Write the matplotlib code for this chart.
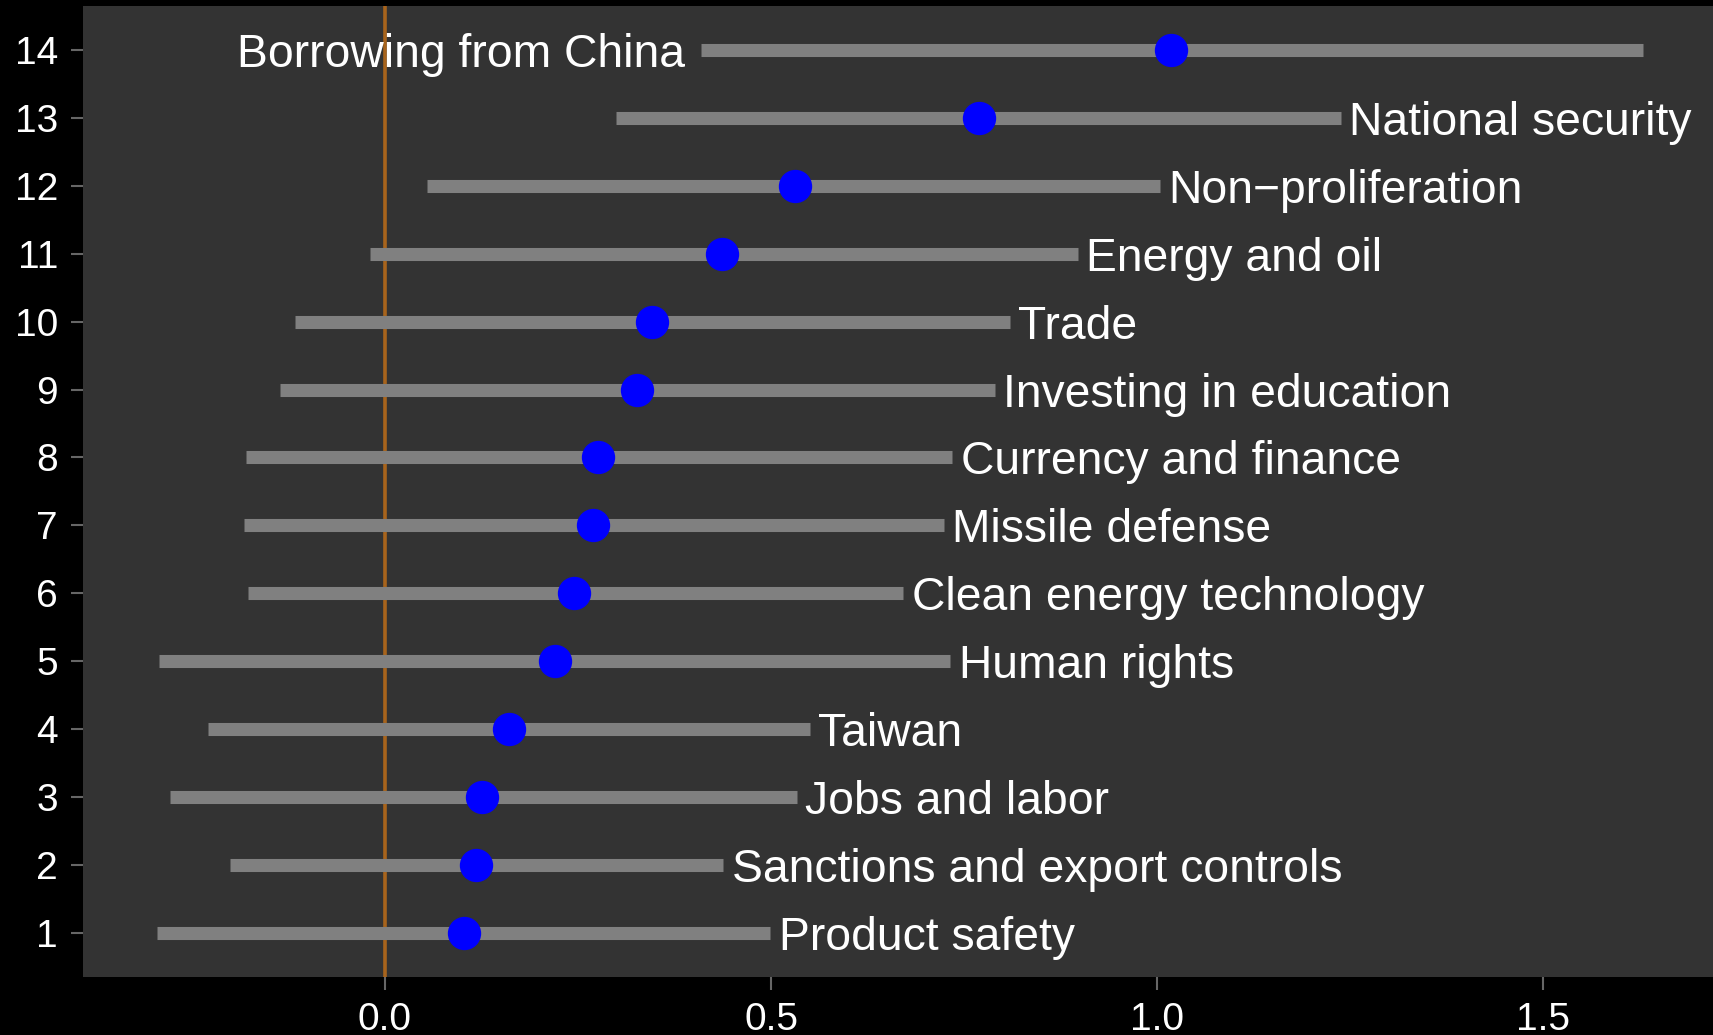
import numpy as np
import matplotlib
matplotlib.use('Agg')
import matplotlib.pyplot as plt

topics = ['Product safety', 'Sanctions and export controls', 'Jobs and labor', 'Taiwan',
          'Human rights', 'Clean energy technology', 'Missile defense', 'Currency and finance',
          'Investing in education', 'Trade', 'Energy and oil', 'Non\u2212proliferation',
          'National security', 'Borrowing from China']
est = [0.102, 0.118, 0.126, 0.160, 0.220, 0.245, 0.269, 0.276, 0.326, 0.346, 0.436, 0.531, 0.769, 1.018]
lo = [-0.295, -0.201, -0.278, -0.229, -0.293, -0.178, -0.183, -0.180, -0.136, -0.116, -0.020, 0.055, 0.299, 0.409]
hi = [0.499, 0.438, 0.533, 0.550, 0.732, 0.671, 0.724, 0.735, 0.790, 0.809, 0.897, 1.004, 1.238, 1.629]

plt.rcParams['font.family'] = ['Liberation Sans', 'DejaVu Sans']

fig = plt.figure(figsize=(17.13, 10.35), dpi=100, facecolor='black')
ax = fig.add_axes([0.0485, 0.0563, 0.9515, 0.9379])
ax.set_facecolor('#333333')

ypos = np.arange(1, len(topics) + 1)
ax.axvline(0, color='#a8641c', lw=2.6, zorder=1)
ax.hlines(ypos, lo, hi, color='#808080', lw=9.4, capstyle='butt', zorder=2)
ax.plot(est, ypos, 'o', color='#0000ff', ms=24, mec='none', zorder=3)

# label to the right of each interval, unless it would run off the panel
for y, name, l, h in zip(ypos, topics, lo, hi):
    if h > 1.5:
        ax.text(l - 0.02, y, name, ha='right', va='center_baseline', color='white', fontsize=33.3)
    else:
        ax.text(h + 0.011, y, name, ha='left', va='center_baseline', color='white', fontsize=33.3)

ax.set_xlim(-0.391, 1.72)
ax.set_ylim(0.352, 14.648)
ax.set_xticks([0.0, 0.5, 1.0, 1.5])
ax.set_xticklabels(['0.0', '0.5', '1.0', '1.5'])
ax.set_yticks(ypos)
ax.tick_params(colors='#666666', labelcolor='white', labelsize=28, length=9, width=1.5, pad=9)
for s in ax.spines.values():
    s.set_visible(False)

fig.savefig('out.png', facecolor='black')
